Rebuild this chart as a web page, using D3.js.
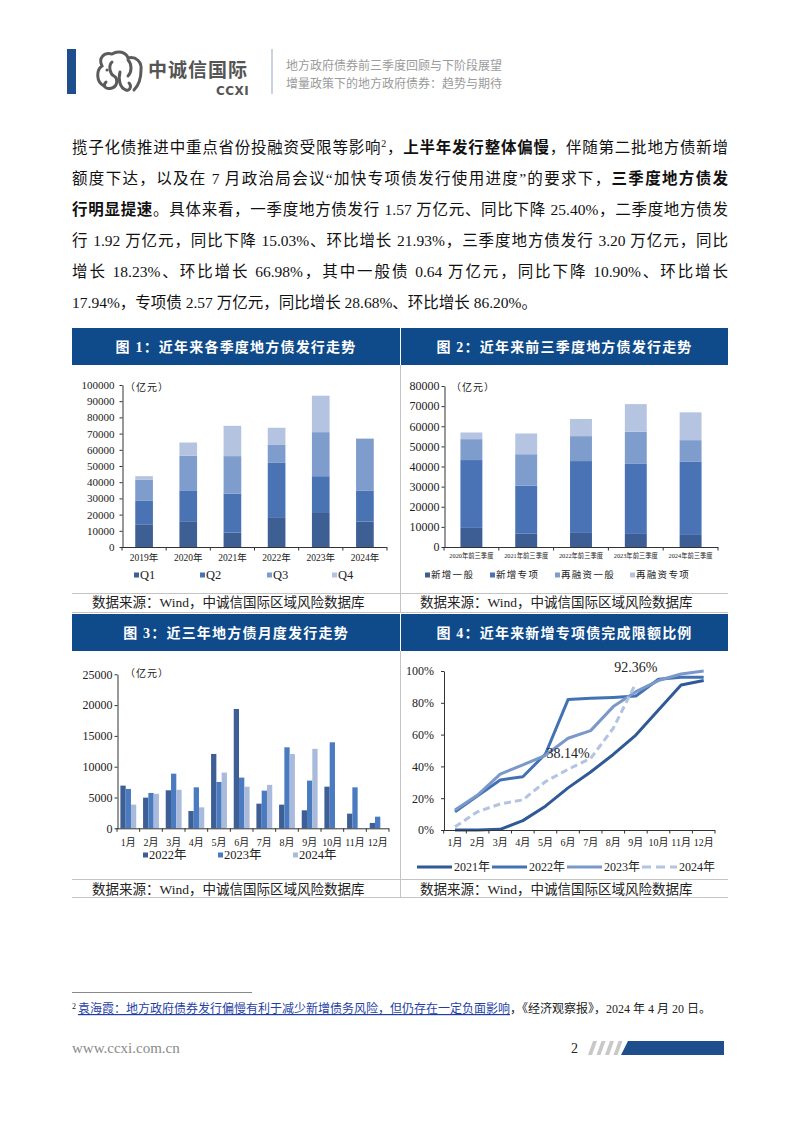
<!DOCTYPE html>
<html><head><meta charset="utf-8">
<script src="https://cdn.jsdelivr.net/npm/d3@7"></script>
<style>
html,body{margin:0;padding:0;background:#fff;}
body{width:802px;height:1133px;overflow:hidden;position:relative;font-family:"Liberation Serif","Noto Sans CJK SC",serif;}
.para{position:absolute;left:72px;width:656px;font-size:15.5px;line-height:20px;color:#111;text-align:justify;text-align-last:justify;}
.para.last{text-align:left;text-align-last:left;}
.para b{font-weight:bold;}
.para sup{font-size:10px;line-height:0;vertical-align:6px;}
svg{position:absolute;left:0;top:0;}
</style></head><body>
<svg id="page" width="802" height="1133"></svg>
<div class="para" style="top:138px">揽子化债推进中重点省份投融资受限等影响<sup>2</sup>，<b>上半年发行整体偏慢</b>，伴随第二批地方债新增</div>
<div class="para" style="top:169px">额度下达，以及在 7 月政治局会议“加快专项债发行使用进度”的要求下，<b>三季度地方债发</b></div>
<div class="para" style="top:200px"><b>行明显提速</b>。具体来看，一季度地方债发行 1.57 万亿元、同比下降 25.40%，二季度地方债发</div>
<div class="para" style="top:231px">行 1.92 万亿元，同比下降 15.03%、环比增长 21.93%，三季度地方债发行 3.20 万亿元，同比</div>
<div class="para" style="top:262px">增长 18.23%、环比增长 66.98%，其中一般债 0.64 万亿元，同比下降 10.90%、环比增长</div>
<div class="para last" style="top:293px">17.94%，专项债 2.57 万亿元，同比增长 28.68%、环比增长 86.20%。</div>
<script>
// ---------------- DATA ----------------
const years1 = ["2019年","2020年","2021年","2022年","2023年","2024年"];
const q1 = [14000,15900,8900,18400,21000,15700];
const q2 = [14500,18700,24100,33800,22700,19200];
const q3 = [13100,21700,23100,11100,27200,32000];
const q4 = [2100,8200,18700,10300,22500,0];
const qNames = ["Q1","Q2","Q3","Q4"];
const ticks1 = [0,10000,20000,30000,40000,50000,60000,70000,80000,90000,100000];

const periods2 = ["2020年前三季度","2021年前三季度","2022年前三季度","2023年前三季度","2024年前三季度"];
const newGeneral = [9500,6600,7000,6500,6000];
const newSpecial = [33700,23900,35700,34800,36300];
const refiGeneral = [10400,15600,12400,16000,10800];
const refiSpecial = [3300,10300,8500,13700,13800];
const names2 = ["新增一般","新增专项","再融资一般","再融资专项"];
const ticks2 = [0,10000,20000,30000,40000,50000,60000,70000,80000];

const months = ["1月","2月","3月","4月","5月","6月","7月","8月","9月","10月","11月","12月"];
const m2022 = [6930,4980,6170,2810,12070,19370,4000,3840,2920,6760,2380,870];
const m2023 = [6390,5740,8870,6650,7520,8230,6110,13150,7740,13960,6650,1890];
const m2024 = [3850,5600,6250,3400,9050,6750,7050,12050,12900,null,null,null];
const names3 = ["2022年","2023年","2024年"];
const ticks3 = [0,5000,10000,15000,20000,25000];

const p2021 = [0,0,0.4,5.9,15,26.5,36.5,47.5,59.7,75.5,91.2,94];
const p2022 = [11.5,21.6,31.5,33.5,47.8,82,82.8,83.4,84.3,94.8,96,96];
const p2023 = [12.6,22,35.2,40.9,47,57.7,62.5,77.6,87,94,98.1,100];
const p2024 = [2,11.5,16.4,18.9,30.4,38.14,45,64,92.36];
const names4 = ["2021年","2022年","2023年","2024年"];
const ticks4 = [0,20,40,60,80,100];
const notes4 = [{s:3,m:"6月",t:"38.14%"},{s:3,m:"9月",t:"92.36%"}];

// ---------------- STYLE ----------------
const FONT = '"Liberation Serif","Noto Sans CJK SC",serif';
const BLUE = "#0f4a8a";
const svg = d3.select("#page");

// ---------------- PAGE HEADER ----------------
svg.append("rect").attr("x",67).attr("y",49).attr("width",9).attr("height",45).attr("fill","#1f4e8c");
const logo = svg.append("g").attr("fill","none").attr("stroke","#5b5b5b").attr("stroke-width",3).attr("stroke-linecap","round");
logo.append("path").attr("d","M104,86 C96,82 96,70 102,66 C98,58 104,52 112,54 C118,50 126,52 128,58 C136,56 142,62 141,70 C141,78 138,86 134,90");
logo.append("path").attr("d","M112,62 C108,66 110,74 114,76 C118,78 118,86 112,88 C106,90 102,86 106,82");
logo.append("path").attr("d","M120,72 C118,80 120,88 126,90 C130,91 132,86 129,83");
logo.append("path").attr("d","M128,60 C132,64 132,72 128,76");
logo.append("circle").attr("cx",107).attr("cy",70).attr("r",1.5).attr("fill","#5b5b5b").attr("stroke","none");
svg.append("text").attr("x",148).attr("y",77).attr("font-family","'Noto Sans CJK SC'").attr("font-weight","bold")
  .attr("font-size",19).attr("letter-spacing",1).attr("fill","#555").text("中诚信国际");
svg.append("text").attr("x",216).attr("y",95).attr("font-family","'DejaVu Sans',sans-serif").attr("font-weight","bold")
  .attr("font-size",12).attr("letter-spacing",0.5).attr("fill","#555").text("CCXI");
svg.append("line").attr("x1",272).attr("x2",272).attr("y1",49).attr("y2",94).attr("stroke","#8fa3c2").attr("stroke-width",1);
svg.append("text").attr("x",286).attr("y",70).attr("font-family","'Noto Sans CJK SC'").attr("font-size",12).attr("fill","#9b9b9b").text("地方政府债券前三季度回顾与下阶段展望");
svg.append("text").attr("x",286).attr("y",88).attr("font-family","'Noto Sans CJK SC'").attr("font-size",12).attr("fill","#9b9b9b").text("增量政策下的地方政府债券：趋势与期待");

// ---------------- PANELS ----------------
function panelHeader(x,y,w,title){
  svg.append("rect").attr("x",x).attr("y",y).attr("width",w).attr("height",37).attr("fill",BLUE);
  svg.append("text").attr("x",x+w/2).attr("y",y+23.5).attr("text-anchor","middle").attr("fill","#fff")
    .attr("font-family",FONT).attr("font-weight","bold").attr("font-size",14).attr("letter-spacing",1.2).text(title);
}
panelHeader(72,328,328,"图 1：近年来各季度地方债发行走势");
panelHeader(401,328,327,"图 2：近年来前三季度地方债发行走势");
panelHeader(72,614,328,"图 3：近三年地方债月度发行走势");
panelHeader(401,614,327,"图 4：近年来新增专项债完成限额比例");
const frame = svg.append("g").attr("stroke","#c4c4c4").attr("stroke-width",1);
[[365,612],[651,898]].forEach(([a,b])=>{
  frame.append("line").attr("x1",400.5).attr("x2",400.5).attr("y1",a).attr("y2",b);
});
[593.5,612.5,879.5,897.5].forEach(yv=>frame.append("line").attr("x1",72).attr("x2",728).attr("y1",yv).attr("y2",yv));
[[92,607],[420,607],[92,894],[420,894]].forEach(([x,y])=>{
  svg.append("text").attr("x",x).attr("y",y).attr("font-family",FONT).attr("font-size",13.5).attr("fill","#222")
    .text("数据来源：Wind，中诚信国际区域风险数据库");
});

// ---------------- HELPERS ----------------
function styleAxis(sel,size){
  sel.select(".domain").attr("stroke","#333");
  sel.selectAll(".tick line").attr("stroke","#333");
  sel.selectAll("text").attr("font-family",FONT).attr("font-size",size).attr("fill","#222");
}
function xAxis(g,x,cats,y0,labelY,size){
  g.append("line").attr("x1",x.range()[0]).attr("x2",x.range()[1]).attr("y1",y0+0.5).attr("y2",y0+0.5).attr("stroke","#333");
  d3.range(cats.length+1).forEach(i=>{
    const xv = x.range()[0]+i*x.step();
    g.append("line").attr("x1",xv).attr("x2",xv).attr("y1",y0).attr("y2",y0+3.5).attr("stroke","#333");
  });
  g.selectAll(".xl").data(cats).join("text").attr("class","xl")
    .attr("x",d=>x(d)+x.bandwidth()/2).attr("y",labelY).attr("text-anchor","middle").attr("dominant-baseline","central")
    .attr("font-family",FONT).attr("font-size",size).attr("fill","#222").text(d=>d);
}
function unitLabel(x,y){
  svg.append("text").attr("x",x).attr("y",y).attr("dominant-baseline","central").attr("font-family",FONT)
    .attr("font-size",10).attr("letter-spacing",1).attr("fill","#222").text("（亿元）");
}
function stacked(cats,series,names,colors,cfg){
  const g = svg.append("g");
  const x = d3.scaleBand().domain(cats).range([cfg.x0,cfg.x1]).paddingInner(0.6).paddingOuter(0.3);
  const y = d3.scaleLinear().domain([0,cfg.max]).range([cfg.y0,cfg.y1]);
  const rows = cats.map((c,i)=>{const o={cat:c}; names.forEach((n,j)=>o[n]=series[j][i]); return o;});
  const st = d3.stack().keys(names)(rows);
  g.selectAll(".ser").data(st).join("g").attr("class","ser").attr("fill",(d,i)=>colors[i])
    .selectAll("rect").data(d=>d).join("rect")
    .attr("x",d=>x(d.data.cat)).attr("width",x.bandwidth())
    .attr("y",d=>y(d[1])).attr("height",d=>Math.max(0,y(d[0])-y(d[1])));
  const ya = g.append("g").attr("transform",`translate(${cfg.x0+0.5},0)`)
    .call(d3.axisLeft(y).tickValues(cfg.ticks).tickSize(3).tickSizeOuter(0).tickPadding(cfg.pad).tickFormat(d3.format("d")));
  styleAxis(ya,cfg.fs);
  xAxis(g,x,cats,cfg.y0,cfg.xly,cfg.xfs);
  return {x,y};
}
function legendBoxes(items,colors,xs,y,fs,ls){
  items.forEach((t,i)=>{
    svg.append("rect").attr("x",xs[i]).attr("y",y-2.5).attr("width",5).attr("height",5).attr("fill",colors[i]);
    svg.append("text").attr("x",xs[i]+6).attr("y",y).attr("dominant-baseline","central").attr("font-family",FONT)
      .attr("font-size",fs).attr("letter-spacing",ls).attr("fill","#222").text(t);
  });
}

// ---------------- CHART 1 ----------------
const col1 = ["#3d5f93","#4a73b4","#7e9ccc","#b4c3e0"];
stacked(years1,[q1,q2,q3,q4],qNames,col1,{x0:122,x1:387,y0:547,y1:385,max:100000,ticks:ticks1,pad:5,fs:11,xly:558,xfs:9.5});
unitLabel(125,387);
legendBoxes(qNames,col1,[134,200,267,332],575,12.5,0);

// ---------------- CHART 2 ----------------
const col2 = ["#3c5e94","#4a73b5","#7e9dcc","#b5c4e1"];
stacked(periods2,[newGeneral,newSpecial,refiGeneral,refiSpecial],names2,col2,{x0:444,x1:718,y0:547,y1:386,max:80000,ticks:ticks2,pad:2,fs:12,xly:555,xfs:6.3});
unitLabel(451,387);
legendBoxes(names2,col2,[425,490,555,630],575,9.5,1.3);

// ---------------- CHART 3 ----------------
(function(){
  const g = svg.append("g");
  const col3 = ["#3d5f96","#4a7bc0","#a9badb"];
  const x = d3.scaleBand().domain(months).range([117,389]).paddingInner(0.3).paddingOuter(0.15);
  const xs = d3.scaleBand().domain(names3).range([0,x.bandwidth()]);
  const y = d3.scaleLinear().domain([0,25000]).range([828.3,674.3]);
  const series = [m2022,m2023,m2024];
  const rows = [];
  months.forEach((m,i)=>series.forEach((s,j)=>{ if(s[i]!=null) rows.push({m,n:names3[j],v:s[i],j}); }));
  g.selectAll("rect").data(rows).join("rect")
    .attr("x",d=>x(d.m)+xs(d.n)).attr("width",xs.bandwidth())
    .attr("y",d=>y(d.v)).attr("height",d=>y(0)-y(d.v)).attr("fill",d=>col3[d.j]);
  const ya = g.append("g").attr("transform","translate(117.5,0)")
    .call(d3.axisLeft(y).tickValues(ticks3).tickSize(3).tickSizeOuter(0).tickPadding(2).tickFormat(d3.format("d")));
  styleAxis(ya,12);
  xAxis(g,x,months,828.3,842,10);
  unitLabel(125,673);
  legendBoxes(names3,col3,[143,218,293],855,12.5,0);
})();

// ---------------- CHART 4 ----------------
(function(){
  const g = svg.append("g");
  const col4 = ["#2f5a96","#4272b4","#7b98cb","#b3c3e2"];
  const x = d3.scalePoint().domain(months).range([443.7,715]).padding(0.5);
  const y = d3.scaleLinear().domain([0,100]).range([830,671]);
  const series = [p2021,p2022,p2023,p2024];
  const line = d3.line().x((d,i)=>x(months[i])).y(d=>y(d));
  series.forEach((s,j)=>{
    g.append("path").attr("d",line(s)).attr("fill","none").attr("stroke",col4[j]).attr("stroke-width",3)
      .attr("stroke-linejoin","round").attr("stroke-dasharray",j===3?"7,4":null);
  });
  const ya = g.append("g").attr("transform","translate(444,0)")
    .call(d3.axisLeft(y).tickValues(ticks4).tickSize(3).tickSizeOuter(0).tickPadding(7).tickFormat(d=>d+"%"));
  styleAxis(ya,12);
  const step = (715-443.7)/months.length;
  g.append("line").attr("x1",443.7).attr("x2",715).attr("y1",830.5).attr("y2",830.5).attr("stroke","#333");
  d3.range(months.length+1).forEach(i=>{
    const xv = 443.7+i*step;
    g.append("line").attr("x1",xv).attr("x2",xv).attr("y1",830).attr("y2",833.5).attr("stroke","#333");
  });
  g.selectAll(".xl").data(months).join("text").attr("class","xl").attr("x",d=>x(d)).attr("y",842)
    .attr("text-anchor","middle").attr("dominant-baseline","central").attr("font-family",FONT).attr("font-size",10).attr("fill","#222").text(d=>d);
  notes4.forEach(n=>{
    const i = months.indexOf(n.m);
    g.append("text").attr("x",x(n.m)).attr("y",y(series[n.s][i])-11).attr("text-anchor","middle")
      .attr("font-family",FONT).attr("font-size",14).attr("fill","#222").text(n.t);
  });
  const lx = [417,492,567,642];
  names4.forEach((nm,j)=>{
    svg.append("line").attr("x1",lx[j]).attr("x2",lx[j]+35).attr("y1",867).attr("y2",867).attr("stroke",col4[j])
      .attr("stroke-width",3).attr("stroke-dasharray",j===3?"9,5":null);
    svg.append("text").attr("x",lx[j]+37).attr("y",867).attr("dominant-baseline","central").attr("font-family",FONT)
      .attr("font-size",12).attr("fill","#222").text(nm);
  });
})();

// ---------------- FOOTNOTE & FOOTER ----------------
svg.append("line").attr("x1",72).attr("x2",252).attr("y1",992.5).attr("y2",992.5).attr("stroke","#888");
const fn = svg.append("text").attr("x",72).attr("y",1013).attr("font-family",FONT).attr("font-size",12).attr("fill","#222");
fn.append("tspan").attr("font-size",8).attr("dy",-4).text("2 ");
fn.append("tspan").attr("dy",4).attr("fill","#1f3fa6").attr("text-decoration","underline")
  .text("袁海霞：地方政府债券发行偏慢有利于减少新增债务风险，但仍存在一定负面影响");
fn.append("tspan").text("，《经济观察报》，2024 年 4 月 20 日。");
svg.append("text").attr("x",72).attr("y",1053).attr("font-family",FONT).attr("font-size",15).attr("fill","#8a8a8a").text("www.ccxi.com.cn");
svg.append("text").attr("x",571).attr("y",1053).attr("font-family",FONT).attr("font-size",14).attr("fill","#222").text("2");
d3.range(4).forEach(i=>{
  const x0 = 588+i*8.5;
  svg.append("polygon").attr("points",`${x0+5},1041 ${x0+9},1041 ${x0+4},1055 ${x0},1055`).attr("fill","#c8c8c8");
});
svg.append("polygon").attr("points","628,1041 724,1041 724,1055 621,1055").attr("fill","#1f4e8c");
</script>
</body></html>
